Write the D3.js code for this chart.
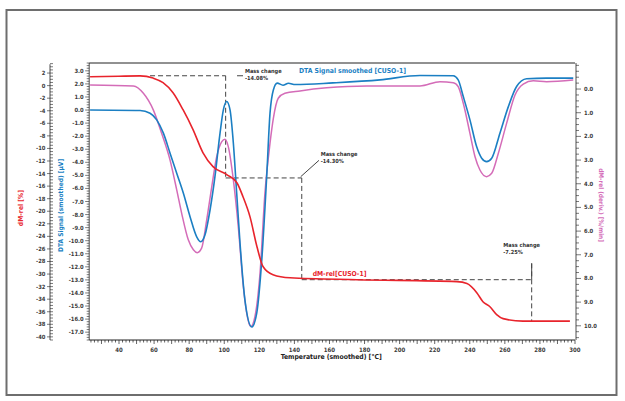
<!DOCTYPE html>
<html><head><meta charset="utf-8">
<script src="https://cdn.jsdelivr.net/npm/d3@7"></script>
<style>
body{margin:0;background:#fff;}
svg{display:block;font-family:"Liberation Sans Narrow","DejaVu Sans Condensed","Roboto Condensed",sans-serif;}
</style></head>
<body><svg id="c" width="625" height="401"></svg>
<script>
// ---- data (temperature in °C) ----
const massTemp = [23.5,40,52,59.4,65.1,70.8,76.5,82.2,87.9,93.6,101.6,107.3,110.7,114.7,118.7,122.1,127.8,137.5,175.7,232.7,238.4,244.1,247.5,251.5,255.5,259,270.3,297.1];
const massVal  = [1.4,1.5,1.55,1.2,0.46,-1.14,-3.84,-7.0,-10.7,-12.9,-14.2,-15.5,-17.7,-20.9,-25.7,-28.8,-30.1,-30.6,-30.9,-31.2,-31.5,-33.0,-34.4,-35.2,-36.5,-37.1,-37.5,-37.5];

const dtaTemp = [23.5,52,57.7,61.5,65.3,69.1,72.9,76.7,80.5,84.3,86.6,89.0,91.9,94.7,97.6,99.5,101.4,103.3,105.2,107.1,109.0,111.8,115.7,118.5,121.4,124.2,126.1,128.0,130.2,133.5,136.6,140.5,162,188.8,211.6,230.6,233.4,236.3,240.1,243.9,246.8,249.6,252.5,257.2,262.0,266.7,272.4,283.8,299];
const dtaVal  = [0.0,-0.04,-0.24,-0.75,-1.77,-3.3,-4.84,-6.37,-8.16,-9.7,-10.08,-9.57,-7.65,-5.1,-1.77,0.01,0.65,0.01,-2.54,-6.37,-10.2,-14.55,-16.6,-15.57,-11.48,-5.1,-0.24,1.54,2.06,1.9,2.05,1.95,2.08,2.31,2.64,2.62,2.31,1.03,-0.75,-2.8,-3.69,-3.95,-3.69,-1.77,0.26,1.8,2.39,2.44,2.44];

const derTemp = [23.5,48.2,53.9,59.6,64.3,69.1,72.9,75.7,79.5,82.4,84.6,87.1,90.0,92.9,95.7,98.6,100.4,102.3,105.2,108.0,110.9,112.8,115.1,117.5,120.4,123.2,126.1,128.0,130.8,134.6,143.2,158.4,181.2,211.6,223.0,230.6,233.4,236.3,240.1,243.0,245.8,249.6,252.5,256.3,261.0,265.8,270.5,276.2,283.8,299];
const derVal  = [-0.17,-0.13,0.18,0.89,1.87,3.0,4.26,5.24,6.37,6.79,6.91,6.72,5.53,4.12,2.86,2.22,2.12,2.43,3.84,5.81,8.34,9.46,10.03,9.61,7.78,4.4,2.29,1.24,0.39,0.18,0.08,-0.05,-0.13,-0.13,-0.31,-0.27,-0.1,0.6,1.87,2.86,3.42,3.7,3.56,2.71,1.45,0.25,-0.21,-0.35,-0.31,-0.38];

const xTicks = [40,60,80,100,120,140,160,180,200,220,240,260,280,300];
const massTicks = d3.range(2,-41,-2);
const dtaTicks = d3.range(3,-18,-1);
const derTicks = d3.range(0,11,1);

// mass-change annotation steps
const steps = [
  {tStart:57.7, tV:100.8, from:1.57, to:-14.7, label:["Mass change","-14.08%"]},
  {tStart:100.8, tV:144.2, from:-14.7, to:-30.9, label:["Mass change","-14.30%"]},
  {tStart:144.2, tV:275.3, from:-30.9, to:-37.5, label:["Mass change","-7.25%"]}
];

const RED="#e8242c", BLUE="#1b7fc3", PINK="#d46cb8", INK="#3a3a3a";

const svg = d3.select("#c");
svg.append("rect").attr("x",6.5).attr("y",10).attr("width",610).attr("height",385)
  .attr("fill","none").attr("stroke","#6e6e6e").attr("stroke-width",2);

const x = d3.scaleLinear().domain([23,300]).range([89.2,575]);
const yM = d3.scaleLinear().domain([3.6,-40.5]).range([63,340]);
const yD = d3.scaleLinear().domain([3.6,-17.6]).range([63,340]);
const yR = d3.scaleLinear().domain([-1.1,10.6]).range([63,340]);

// frame top
svg.append("line").attr("x1",x(23)).attr("x2",x(300)).attr("y1",63).attr("y2",63).attr("stroke","#222").attr("stroke-width",1);

// x axis
const gx = svg.append("g").attr("transform","translate(0,340)");
gx.append("line").attr("x1",x(23)).attr("x2",x(300)).attr("stroke","#222");
d3.range(24,301,2).forEach(t=>{
  const major = t%10===0;
  gx.append("line").attr("x1",x(t)).attr("x2",x(t)).attr("y1",0).attr("y2",major?4:2.5).attr("stroke","#222").attr("stroke-width",0.7);
});
gx.selectAll("text.t").data(xTicks).enter().append("text")
  .attr("x",d=>x(d)).attr("y",11.5).attr("text-anchor","middle")
  .attr("font-size",6).attr("font-weight","bold").attr("fill",INK).text(d=>d);
svg.append("text").attr("x",x(161)).attr("y",359).attr("text-anchor","middle")
  .attr("font-size",6.8).attr("font-weight","bold").attr("fill","#222").text("Temperature (smoothed) [°C]");

// outer left axis (mass)
const axM = 50;
svg.append("line").attr("x1",axM).attr("x2",axM).attr("y1",yM(3.4)).attr("y2",yM(-40.5)).attr("stroke","#222").attr("stroke-width",0.8);
d3.range(3.5,-40.6,-0.5).forEach(v=>{
  const major = Math.abs(v%2)<1e-9;
  svg.append("line").attr("x1",major?axM-3:axM).attr("x2",axM+3).attr("y1",yM(v)).attr("y2",yM(v)).attr("stroke","#222").attr("stroke-width",0.6);
});
svg.selectAll("text.m").data(massTicks).enter().append("text")
  .attr("x",axM-4.5).attr("y",d=>yM(d)+2).attr("text-anchor","end")
  .attr("font-size",5.8).attr("font-weight","bold").attr("fill",INK).text(d=>d);
svg.append("text").attr("transform",`translate(23,${yM(-19.5)}) rotate(-90)`).attr("text-anchor","middle")
  .attr("font-size",6.8).attr("font-weight","bold").attr("fill",RED).text("dM-rel [%]");

// inner left axis (DTA)
const axD = x(23);
svg.append("line").attr("x1",axD).attr("x2",axD).attr("y1",63).attr("y2",340).attr("stroke","#222").attr("stroke-width",0.8);
d3.range(3.6,-17.61,-0.2).forEach(v=>{
  const major = Math.abs(v-Math.round(v))<1e-6;
  svg.append("line").attr("x1",axD-(major?4:2.5)).attr("x2",axD).attr("y1",yD(v)).attr("y2",yD(v)).attr("stroke","#222").attr("stroke-width",0.6);
});
svg.selectAll("text.d").data(dtaTicks).enter().append("text")
  .attr("x",axD-5.5).attr("y",d=>yD(d)+2).attr("text-anchor","end")
  .attr("font-size",5.8).attr("font-weight","bold").attr("fill",INK).text(d=>d.toFixed(1));
svg.append("text").attr("transform",`translate(63,${yD(-7.3)}) rotate(-90)`).attr("text-anchor","middle")
  .attr("font-size",6.6).attr("font-weight","bold").attr("fill",BLUE).text("DTA Signal (smoothed) [µV]");

// right axis (derivative)
const axR = x(300)+1;
svg.append("line").attr("x1",axR).attr("x2",axR).attr("y1",63).attr("y2",340).attr("stroke","#222").attr("stroke-width",0.8);
d3.range(-1,10.6,0.25).forEach(v=>{
  const major = Math.abs(v-Math.round(v))<1e-6 && v>=0;
  svg.append("line").attr("x1",axR).attr("x2",axR+(major?5:3)).attr("y1",yR(v)).attr("y2",yR(v)).attr("stroke","#222").attr("stroke-width",0.6);
});
svg.selectAll("text.r").data(derTicks).enter().append("text")
  .attr("x",axR+8).attr("y",d=>yR(d)+2).attr("text-anchor","start")
  .attr("font-size",5.8).attr("font-weight","bold").attr("fill",INK).text(d=>d.toFixed(1));
svg.append("text").attr("transform",`translate(599,${yR(4.9)}) rotate(90)`).attr("text-anchor","middle")
  .attr("font-size",6.4).attr("font-weight","bold").attr("fill",PINK).text("dM-rel (deriv.) [%/min]");

// annotations
const ann = svg.append("g").attr("stroke","#444").attr("stroke-width",1).attr("fill","none");
steps.forEach((s,i)=>{
  ann.append("line").attr("x1",x(s.tStart)).attr("x2",x(s.tV)).attr("y1",yM(s.from)).attr("y2",yM(s.from)).attr("stroke-dasharray","5,3");
  const vTop = i===2 ? -28.3 : s.from;
  ann.append("line").attr("x1",x(s.tV)).attr("x2",x(s.tV)).attr("y1",yM(vTop)).attr("y2",yM(s.to)).attr("stroke-dasharray","5,3");
});
// leader lines
ann.append("line").attr("x1",x(107.3)).attr("x2",x(110.7)).attr("y1",yM(1.57)).attr("y2",yM(1.57));
ann.append("line").attr("x1",x(143.6)).attr("x2",x(154)).attr("y1",yM(-14.5)).attr("y2",yM(-11.9));
ann.append("line").attr("x1",x(275.3)).attr("x2",x(275.3)).attr("y1",yM(-28.3)).attr("y2",yM(-30.9));

const labelPos = [[111.8,2.0],[155,-11.2],[259.1,-25.7]];
steps.forEach((s,i)=>{
  const t = svg.append("text").attr("font-size",5.6).attr("font-weight","bold").attr("fill","#333");
  t.append("tspan").attr("x",x(labelPos[i][0])).attr("y",yM(labelPos[i][1])).text(s.label[0]);
  t.append("tspan").attr("x",x(labelPos[i][0])).attr("y",yM(labelPos[i][1])+7.3).text(s.label[1]);
});

// curves
const line = (ys)=> d3.line().x(d=>x(d[0])).y(d=>ys(d[1])).curve(d3.curveMonotoneX);
svg.append("path").datum(d3.zip(derTemp,derVal)).attr("d",line(yR)).attr("fill","none").attr("stroke",PINK).attr("stroke-width",1.5);
svg.append("path").datum(d3.zip(dtaTemp,dtaVal)).attr("d",line(yD)).attr("fill","none").attr("stroke",BLUE).attr("stroke-width",1.6);
svg.append("path").datum(d3.zip(massTemp,massVal)).attr("d",line(yM)).attr("fill","none").attr("stroke",RED).attr("stroke-width",1.6);

// series labels
svg.append("text").attr("x",x(142.6)).attr("y",yD(2.83)).attr("font-size",6.8).attr("font-weight","bold").attr("fill",BLUE).text("DTA Signal smoothed [CUSO-1]");
svg.append("text").attr("x",x(150.4)).attr("y",yM(-30.35)).attr("font-size",6.8).attr("font-weight","bold").attr("fill",RED).text("dM-rel[CUSO-1]");
</script></body></html>
